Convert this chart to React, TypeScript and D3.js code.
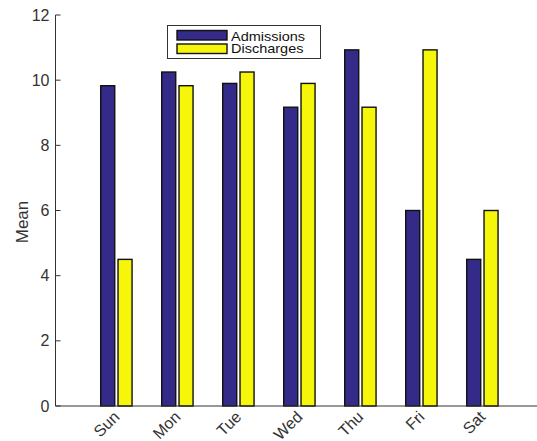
import React from "react";
import * as d3 from "d3";

const days = ["Sun", "Mon", "Tue", "Wed", "Thu", "Fri", "Sat"];
const admissions = [9.83, 10.25, 9.9, 9.17, 10.93, 6.0, 4.5];
const discharges = [4.5, 9.83, 10.25, 9.9, 9.17, 10.93, 6.0];
const yTicks = [0, 2, 4, 6, 8, 10, 12];
const seriesNames = ["Admissions", "Discharges"];
const seriesColors = ["#342a87", "#f6f60a"];

export default function App() {
  const W = 537, H = 441;
  const x = d3.scaleLinear().domain([0, 8]).range([55.5, 543.5]);
  const y = d3.scaleLinear().domain([0, 12]).range([406, 15]);
  const bw = 0.23;
  const offs = [-0.259, 0.025];
  const series = [admissions, discharges];
  const font = "Liberation Sans, Arial, sans-serif";
  const tc = "#333";
  return (
    <div style={{ position: "absolute", left: 0, top: 0 }}>
      <svg width={W} height={H} style={{ display: "block", background: "#fff" }} fontFamily={font}>
        {series.map((vals, s) =>
          vals.map((v, i) => {
            const x0 = x(i + 1 + offs[s]);
            const x1 = x(i + 1 + offs[s] + bw);
            return (
              <rect key={s + "-" + i} x={x0} y={y(v)} width={x1 - x0} height={y(0) - y(v)}
                fill={seriesColors[s]} stroke="#111" strokeWidth={1.4} />
            );
          })
        )}
        {/* axes */}
        <line x1={x(0)} x2={x(8)} y1={y(0)} y2={y(0)} stroke={tc} strokeWidth={1} />
        <line x1={x(0)} x2={x(0)} y1={y(0)} y2={y(12)} stroke={tc} strokeWidth={1} />
        {yTicks.map((t) => (
          <g key={t}>
            <line x1={x(0)} x2={x(0) + 5} y1={y(t)} y2={y(t)} stroke={tc} strokeWidth={1} />
            <text x={x(0) - 6} y={y(t)} dy="0.35em" textAnchor="end" fontSize={16} fill={tc}>{t}</text>
          </g>
        ))}
        {days.map((d, i) => (
          <text key={d} transform={`translate(${x(i + 1) - 4},${y(0) + 4}) rotate(-45)`}
            textAnchor="end" dy="0.7em" fontSize={16} fill={tc}>{d}</text>
        ))}
        <text transform={`translate(28,222) rotate(-90)`} textAnchor="middle" fontSize={17} fill={tc}>Mean</text>
        {/* legend */}
        <rect x={167.5} y={25.5} width={153} height={33} fill="#fff" stroke={tc} strokeWidth={1} />
        {seriesNames.map((n, s) => (
          <g key={n}>
            <rect x={177} y={30.5 + s * 13.5} width={50} height={9.5} fill={seriesColors[s]} stroke="#111" strokeWidth={1.4} />
            <text transform={`translate(231,${41 + s * 12}) scale(1,0.82)`} fontSize={14.5} fill="#111">{n}</text>
          </g>
        ))}
      </svg>
    </div>
  );
}
